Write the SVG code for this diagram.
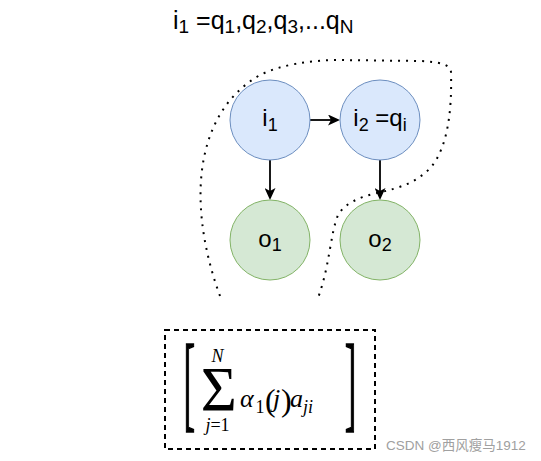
<svg xmlns="http://www.w3.org/2000/svg" width="541" height="461" viewBox="0 0 541 461">
<style>
.lbl{font-family:"Liberation Sans",Arial,sans-serif;font-size:24px;fill:#000}
.sub{font-size:18px}
.ttl{font-size:25px}
.ttl .sub{font-size:19px}
.blue{fill:#dae8fc;stroke:#6c8ebf;stroke-width:1}
.green{fill:#d5e8d4;stroke:#82b366;stroke-width:1}
.edge{fill:none;stroke:#000;stroke-width:1.8}
.math{font-family:"Liberation Serif","Times New Roman",serif;fill:#000}
.it{font-style:italic}
.brk{stroke:#000;stroke-width:0.5}
</style>
<defs>
<marker id="arr" viewBox="0 0 12 11" markerWidth="12" markerHeight="11" refX="10" refY="5.5" markerUnits="userSpaceOnUse" orient="auto">
<path d="M0,0 L12,5.5 L0,11 L3,5.5 Z" fill="#000"/>
</marker>
</defs>
<rect width="541" height="461" fill="#fff"/>
<g id="title">
<text class="lbl ttl" x="173" y="29">i<tspan class="sub" dy="4">1</tspan><tspan dy="-4"> =q</tspan><tspan class="sub" dy="4">1</tspan><tspan dy="-4">,q</tspan><tspan class="sub" dy="4">2</tspan><tspan dy="-4">,q</tspan><tspan class="sub" dy="4">3</tspan><tspan dy="-4">,...q</tspan><tspan class="sub" dy="4">N</tspan></text>
</g>
<g id="region">
<path d="M220,296 C205,255 197,210 202,170 C207,130 225,95 260,75 C280,65 310,60 340,60 L420,61 C440,62 450,64 451,72 C452,110 448,145 432,166 C418,182 400,188 377,193 C360,197 345,203 338,215 C330,235 330,265 318,298" fill="none" stroke="#000" stroke-width="2" stroke-dasharray="2 6"/>
</g>
<g id="connectors">
<line class="edge" x1="310" y1="120" x2="338" y2="120" marker-end="url(#arr)"/>
<line class="edge" x1="270" y1="160" x2="270" y2="198" marker-end="url(#arr)"/>
<line class="edge" x1="380" y1="160" x2="380" y2="198" marker-end="url(#arr)"/>
</g>
<g id="node-i1">
<circle class="blue" cx="270" cy="120" r="40"/>
<text class="lbl" x="270" y="126" text-anchor="middle">i<tspan class="sub" dy="5">1</tspan></text>
</g>
<g id="node-i2">
<circle class="blue" cx="380" cy="120" r="40"/>
<text class="lbl" x="380" y="126" text-anchor="middle">i<tspan class="sub" dy="5">2</tspan><tspan dy="-5"> =q</tspan><tspan class="sub" dy="5">i</tspan></text>
</g>
<g id="node-o1">
<circle class="green" cx="270" cy="240" r="40"/>
<text class="lbl" x="270" y="247" text-anchor="middle">o<tspan class="sub" dy="4">1</tspan></text>
</g>
<g id="node-o2">
<circle class="green" cx="380" cy="240" r="40"/>
<text class="lbl" x="380" y="247" text-anchor="middle">o<tspan class="sub" dy="4">2</tspan></text>
</g>
<g id="formula">
<rect x="165" y="330" width="210" height="119" fill="none" stroke="#000" stroke-width="2" stroke-dasharray="5 4"/>
<text class="math brk" font-size="35" transform="translate(183.6,0) scale(1,3)" x="0" y="139.5">[</text>
<text class="math brk" font-size="35" transform="translate(344.7,0) scale(1,3)" x="0" y="139.5">]</text>
<text class="math" font-size="64" transform="translate(218.7,411) scale(0.97,1)" x="0" y="0" text-anchor="middle">Σ</text>
<text class="math it" font-size="18" x="217.5" y="362" text-anchor="middle">N</text>
<text class="math" font-size="18" x="217.5" y="431" text-anchor="middle"><tspan class="it">j</tspan>=1</text>
<text class="math it" font-size="26" x="240" y="407">α</text>
<text class="math" font-size="18" x="255.5" y="413">1</text>
<text class="math" font-size="32" x="265" y="411">(</text>
<text class="math it" font-size="26" x="273" y="407">j</text>
<text class="math" font-size="32" x="281" y="411">)</text>
<text class="math it" font-size="26" x="290" y="407">a</text>
<text class="math it" font-size="18" x="303" y="413">ji</text>
</g>
<g id="watermark">
<text x="386" y="450" font-family="'Liberation Sans','Noto Sans CJK SC',sans-serif" font-size="13.5" fill="#a0a0a0">CSDN @西风瘦马1912</text>
</g>
</svg>
